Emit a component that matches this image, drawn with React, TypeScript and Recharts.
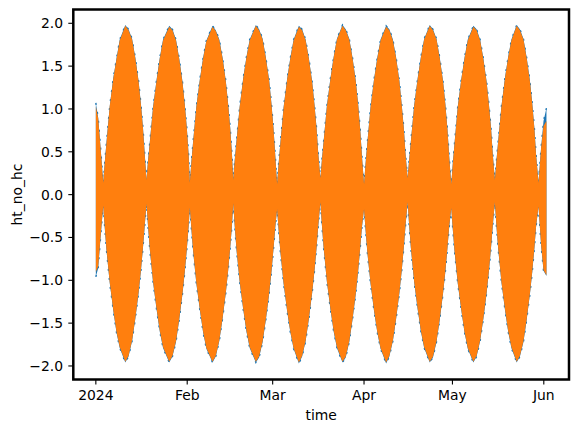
import React from 'react';
import { AreaChart, Area, XAxis, YAxis, ReferenceArea } from 'recharts';

// Days since 2024-01-01 at which the envelope of the dense oscillation was read
const timeDays = [
  0, 0.8, 1.7,
  2.5, 3.0, 3.6, 4.7, 5.9, 7.0, 8.1, 10.0, 11.1, 12.3, 13.4, 14.5, 15.3, 16.0, 16.6,
  17.2, 17.7, 18.3, 19.4, 20.6, 21.7, 22.8, 24.9, 26.0, 27.2, 28.3, 29.4, 30.2, 30.9, 31.5,
  31.9, 32.4, 33.0, 34.1, 35.3, 36.4, 37.5, 39.6, 40.7, 41.9, 43.0, 44.1, 44.9, 45.6, 46.2,
  46.6, 47.1, 47.7, 48.8, 50.0, 51.1, 52.2, 54.3, 55.4, 56.6, 57.7, 58.8, 59.6, 60.3, 60.9,
  61.5, 62.0, 62.6, 63.7, 64.9, 66.0, 67.1, 68.9, 70.0, 71.2, 72.3, 73.4, 74.2, 74.9, 75.5,
  76.2, 76.7, 77.3, 78.4, 79.6, 80.7, 81.8, 83.7, 84.8, 86.0, 87.1, 88.2, 89.0, 89.7, 90.3,
  91.0, 91.5, 92.1, 93.2, 94.4, 95.5, 96.6, 98.5, 99.6, 100.8, 101.9, 103.0, 103.8, 104.5, 105.1,
  105.8, 106.3, 106.9, 108.0, 109.2, 110.3, 111.4, 113.3, 114.4, 115.6, 116.7, 117.8, 118.6, 119.3, 119.9,
  120.6, 121.1, 121.7, 122.8, 124.0, 125.1, 126.2, 128.1, 129.2, 130.4, 131.5, 132.6, 133.4, 134.1, 134.7,
  135.4, 135.9, 136.5, 137.6, 138.8, 139.9, 141.0, 142.8, 143.9, 145.1, 146.2, 147.3, 148.1, 148.8, 149.4,
  150.2, 151.1, 151.9, 152.9,
];

// Orange series (drawn on top): upper / lower envelope
const orangeHigh = [
  1.03, 0.89, 0.50,
  0.14, 0.36, 0.60, 1.03, 1.35, 1.58, 1.80, 1.97, 1.92, 1.81, 1.59, 1.32, 1.05, 0.77, 0.46,
  0.17, 0.39, 0.60, 1.01, 1.33, 1.59, 1.80, 1.96, 1.92, 1.80, 1.58, 1.31, 1.04, 0.76, 0.45,
  0.14, 0.37, 0.61, 1.02, 1.34, 1.59, 1.79, 1.96, 1.91, 1.80, 1.59, 1.32, 1.05, 0.77, 0.46,
  0.17, 0.39, 0.61, 1.02, 1.35, 1.60, 1.80, 1.97, 1.92, 1.81, 1.59, 1.33, 1.05, 0.76, 0.44,
  0.12, 0.35, 0.59, 1.01, 1.34, 1.59, 1.80, 1.96, 1.92, 1.80, 1.58, 1.31, 1.04, 0.77, 0.46,
  0.19, 0.40, 0.62, 1.03, 1.35, 1.60, 1.81, 1.97, 1.92, 1.81, 1.59, 1.32, 1.05, 0.76, 0.44,
  0.12, 0.35, 0.59, 1.01, 1.34, 1.59, 1.80, 1.96, 1.92, 1.80, 1.59, 1.32, 1.04, 0.77, 0.46,
  0.19, 0.40, 0.62, 1.03, 1.35, 1.60, 1.81, 1.97, 1.92, 1.81, 1.59, 1.32, 1.05, 0.76, 0.44,
  0.12, 0.35, 0.59, 1.02, 1.34, 1.59, 1.80, 1.96, 1.92, 1.80, 1.58, 1.31, 1.04, 0.77, 0.46,
  0.17, 0.38, 0.61, 1.02, 1.35, 1.60, 1.80, 1.97, 1.92, 1.81, 1.59, 1.32, 1.05, 0.77, 0.45,
  0.14, 0.55, 0.80, 0.86,
];
const orangeLow = [
  -0.90, -0.84, -0.45,
  -0.13, -0.37, -0.64, -1.02, -1.34, -1.60, -1.78, -1.95, -1.88, -1.70, -1.44, -1.14, -0.88, -0.61, -0.35,
  -0.11, -0.36, -0.63, -1.01, -1.33, -1.59, -1.78, -1.95, -1.88, -1.71, -1.45, -1.15, -0.89, -0.62, -0.36,
  -0.15, -0.39, -0.65, -1.03, -1.34, -1.60, -1.79, -1.95, -1.88, -1.70, -1.44, -1.14, -0.88, -0.61, -0.35,
  -0.10, -0.35, -0.63, -1.01, -1.33, -1.59, -1.78, -1.95, -1.89, -1.71, -1.45, -1.15, -0.89, -0.62, -0.37,
  -0.17, -0.40, -0.66, -1.03, -1.35, -1.60, -1.79, -1.96, -1.88, -1.70, -1.44, -1.14, -0.88, -0.61, -0.35,
  -0.09, -0.35, -0.62, -1.01, -1.33, -1.59, -1.78, -1.95, -1.89, -1.71, -1.45, -1.15, -0.89, -0.62, -0.37,
  -0.17, -0.40, -0.66, -1.03, -1.35, -1.60, -1.79, -1.96, -1.88, -1.70, -1.44, -1.14, -0.88, -0.61, -0.35,
  -0.09, -0.35, -0.62, -1.01, -1.33, -1.59, -1.78, -1.95, -1.89, -1.71, -1.45, -1.15, -0.89, -0.62, -0.37,
  -0.16, -0.39, -0.65, -1.03, -1.34, -1.60, -1.79, -1.95, -1.88, -1.70, -1.44, -1.14, -0.88, -0.61, -0.35,
  -0.09, -0.35, -0.62, -1.01, -1.33, -1.59, -1.78, -1.95, -1.88, -1.71, -1.45, -1.15, -0.89, -0.62, -0.36,
  -0.14, -0.59, -0.88, -0.94,
];

// Blue series (drawn underneath): upper / lower envelope
const blueHigh = [
  1.07, 0.90, 0.51,
  0.14, 0.37, 0.61, 1.03, 1.36, 1.59, 1.81, 1.98, 1.93, 1.82, 1.60, 1.33, 1.06, 0.78, 0.47,
  0.17, 0.40, 0.61, 1.02, 1.34, 1.60, 1.81, 1.97, 1.93, 1.81, 1.59, 1.32, 1.05, 0.77, 0.46,
  0.14, 0.38, 0.62, 1.03, 1.35, 1.60, 1.80, 1.97, 1.92, 1.81, 1.60, 1.33, 1.06, 0.78, 0.47,
  0.17, 0.40, 0.62, 1.03, 1.36, 1.61, 1.81, 1.98, 1.93, 1.82, 1.60, 1.34, 1.06, 0.77, 0.45,
  0.12, 0.36, 0.60, 1.02, 1.35, 1.60, 1.81, 1.97, 1.93, 1.81, 1.59, 1.32, 1.05, 0.78, 0.47,
  0.19, 0.41, 0.63, 1.04, 1.36, 1.61, 1.82, 1.98, 1.93, 1.82, 1.60, 1.33, 1.06, 0.77, 0.45,
  0.12, 0.36, 0.60, 1.02, 1.35, 1.60, 1.81, 1.97, 1.93, 1.81, 1.60, 1.33, 1.05, 0.78, 0.47,
  0.19, 0.41, 0.63, 1.04, 1.36, 1.61, 1.82, 1.98, 1.93, 1.82, 1.60, 1.33, 1.06, 0.77, 0.45,
  0.12, 0.36, 0.60, 1.03, 1.35, 1.60, 1.81, 1.97, 1.93, 1.81, 1.59, 1.32, 1.05, 0.78, 0.47,
  0.17, 0.39, 0.62, 1.03, 1.36, 1.61, 1.81, 1.98, 1.93, 1.82, 1.60, 1.33, 1.06, 0.78, 0.46,
  0.15, 0.56, 0.86, 1.01,
];
const blueLow = [
  -0.96, -0.86, -0.46,
  -0.13, -0.38, -0.65, -1.03, -1.35, -1.61, -1.79, -1.96, -1.89, -1.71, -1.45, -1.15, -0.89, -0.62, -0.36,
  -0.11, -0.37, -0.64, -1.02, -1.34, -1.60, -1.79, -1.96, -1.89, -1.72, -1.46, -1.16, -0.90, -0.63, -0.37,
  -0.15, -0.40, -0.66, -1.04, -1.35, -1.61, -1.80, -1.96, -1.89, -1.71, -1.45, -1.15, -0.89, -0.62, -0.36,
  -0.10, -0.36, -0.64, -1.02, -1.34, -1.60, -1.79, -1.96, -1.90, -1.72, -1.46, -1.16, -0.90, -0.63, -0.38,
  -0.17, -0.41, -0.67, -1.04, -1.36, -1.61, -1.80, -1.97, -1.89, -1.71, -1.45, -1.15, -0.89, -0.62, -0.36,
  -0.09, -0.36, -0.63, -1.02, -1.34, -1.60, -1.79, -1.96, -1.90, -1.72, -1.46, -1.16, -0.90, -0.63, -0.38,
  -0.17, -0.41, -0.67, -1.04, -1.36, -1.61, -1.80, -1.97, -1.89, -1.71, -1.45, -1.15, -0.89, -0.62, -0.36,
  -0.09, -0.36, -0.63, -1.02, -1.34, -1.60, -1.79, -1.96, -1.90, -1.72, -1.46, -1.16, -0.90, -0.63, -0.38,
  -0.16, -0.40, -0.66, -1.04, -1.35, -1.61, -1.80, -1.96, -1.89, -1.71, -1.45, -1.15, -0.89, -0.62, -0.36,
  -0.09, -0.36, -0.63, -1.02, -1.34, -1.60, -1.79, -1.96, -1.89, -1.72, -1.46, -1.16, -0.90, -0.63, -0.37,
  -0.14, -0.60, -0.89, -0.95,
];

const monthTicks = [0, 31, 60, 91, 121, 152];
const monthLabels = ['2024', 'Feb', 'Mar', 'Apr', 'May', 'Jun'];
const yTicks = [-2, -1.5, -1, -0.5, 0, 0.5, 1, 1.5, 2];

const X_DOMAIN: [number, number] = [-7.65, 160.55];
const Y_DOMAIN: [number, number] = [-2.158, 2.161];

const FONT = 'DejaVu Sans';
const FS = 13.9;

const data = timeDays.map((t, i) => ({
  t,
  orange: [orangeLow[i], orangeHigh[i]],
  blue: [blueLow[i], blueHigh[i]],
}));

const fmtY = (v: number) => (v < 0 ? '\u2212' : '') + Math.abs(v).toFixed(1);
const fmtX = (v: number) => {
  const i = monthTicks.indexOf(v);
  return i >= 0 ? monthLabels[i] : '';
};

export default function App() {
  const W = 563;
  const H = 416;
  const margin = { top: 1.5, right: 2, bottom: 4.5, left: 0 };
  const yAxisW = 65.3;
  const xAxisH = 40;
  const plotLeft = margin.left + yAxisW;
  const plotW = W - plotLeft - margin.right;
  const plotTop = margin.top;
  const plotH = H - margin.top - margin.bottom - xAxisH;
  const tickStyle = { fill: '#000', fontSize: FS, fontFamily: FONT };

  return (
    <div style={{ width: W, height: H }}>
      <AreaChart width={W} height={H} data={data} margin={margin}>
        <XAxis
          dataKey="t"
          type="number"
          domain={X_DOMAIN}
          allowDataOverflow
          ticks={monthTicks}
          interval={0}
          tickFormatter={fmtX}
          axisLine={false}
          tickLine={{ stroke: '#000', strokeWidth: 1.1 }}
          tickSize={5}
          tickMargin={5.6}
          tick={tickStyle}
          height={xAxisH}
          label={{
            content: () => (
              <text
                x={plotLeft + plotW / 2}
                y={412}
                textAnchor="middle"
                fontFamily={FONT}
                fontSize={FS}
                fill="#000"
              >
                time
              </text>
            ),
          }}
        />
        <YAxis
          type="number"
          domain={Y_DOMAIN}
          allowDataOverflow
          ticks={yTicks}
          interval={0}
          tickFormatter={fmtY}
          axisLine={false}
          tickLine={{ stroke: '#000', strokeWidth: 1.1 }}
          tickSize={5}
          tickMargin={5.3}
          tick={tickStyle}
          width={yAxisW}
          label={{
            content: () => (
              <text
                x={14}
                y={plotTop + plotH / 2}
                transform={`rotate(-90, 14, ${plotTop + plotH / 2})`}
                textAnchor="middle"
                fontFamily={FONT}
                fontSize={FS}
                fill="#000"
              >
                ht_no_hc
              </text>
            ),
          }}
        />
        <Area
          type="linear"
          dataKey="blue"
          stroke="#1f77b4"
          strokeWidth={1.4}
          strokeDasharray="2 7"
          fill="#1f77b4"
          fillOpacity={1}
          dot={false}
          activeDot={false}
          isAnimationActive={false}
        />
        <Area
          type="linear"
          dataKey="orange"
          stroke="none"
          fill="#ff7f0e"
          fillOpacity={1}
          dot={false}
          activeDot={false}
          isAnimationActive={false}
        />
        <ReferenceArea
          x1={X_DOMAIN[0]}
          x2={X_DOMAIN[1]}
          y1={Y_DOMAIN[0]}
          y2={Y_DOMAIN[1]}
          fill="none"
          stroke="#000"
          strokeWidth={2.5}
          ifOverflow="visible"
        />
      </AreaChart>
    </div>
  );
}
